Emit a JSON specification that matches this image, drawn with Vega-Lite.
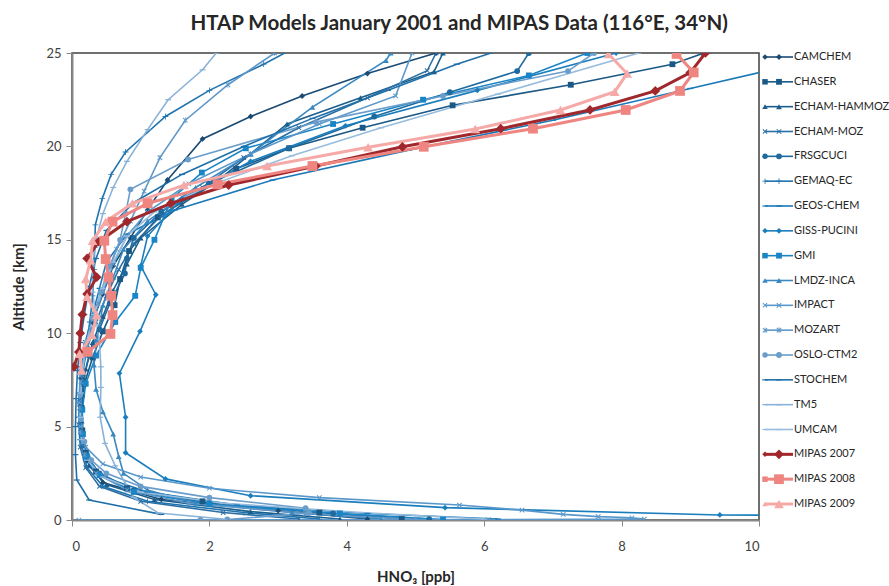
{
  "$schema": "https://vega.github.io/schema/vega-lite/v6.json",
  "title": {"text": "HTAP Models January 2001 and MIPAS Data (116°E, 34°N)", "font": "Lato", "fontSize": 20.5, "fontWeight": "bold", "color": "#262626", "anchor": "middle", "offset": 12, "dx": 9},
  "padding": {"left": 11, "top": 13, "right": 0, "bottom": 0},
  "spacing": 0,
  "resolve": {"scale": {"x": "independent", "y": "independent", "color": "independent", "shape": "independent"}},
  "datasets": {
    "keys": [
      {"s": "CAMCHEM"}, {"s": "CHASER"}, {"s": "ECHAM-HAMMOZ"}, {"s": "ECHAM-MOZ"}, {"s": "FRSGCUCI"}, {"s": "GEMAQ-EC"}, {"s": "GEOS-CHEM"}, {"s": "GISS-PUCINI"}, {"s": "GMI"}, {"s": "LMDZ-INCA"}, {"s": "IMPACT"}, {"s": "MOZART"}, {"s": "OSLO-CTM2"}, {"s": "STOCHEM"}, {"s": "TM5"}, {"s": "UMCAM"}, {"s": "MIPAS 2007"}, {"s": "MIPAS 2008"}, {"s": "MIPAS 2009"}
    ],
    "prof": [
      {"s":"CAMCHEM","x":4.3,"z":0.05},{"s":"CAMCHEM","x":3.0,"z":0.5},{"s":"CAMCHEM","x":1.3,"z":1.1},{"s":"CAMCHEM","x":0.45,"z":2.0},{"s":"CAMCHEM","x":0.22,"z":3.2},{"s":"CAMCHEM","x":0.15,"z":4.6},{"s":"CAMCHEM","x":0.12,"z":6.1},{"s":"CAMCHEM","x":0.13,"z":7.6},{"s":"CAMCHEM","x":0.18,"z":9.1},{"s":"CAMCHEM","x":0.3,"z":10.6},{"s":"CAMCHEM","x":0.45,"z":12.1},{"s":"CAMCHEM","x":0.6,"z":13.6},{"s":"CAMCHEM","x":0.85,"z":15.1},{"s":"CAMCHEM","x":1.1,"z":16.6},{"s":"CAMCHEM","x":1.39,"z":18.2},{"s":"CAMCHEM","x":1.9,"z":20.4},{"s":"CAMCHEM","x":2.6,"z":21.6},{"s":"CAMCHEM","x":3.35,"z":22.7},{"s":"CAMCHEM","x":4.3,"z":23.9},{"s":"CAMCHEM","x":5.3,"z":25.0},
      {"s":"CHASER","x":4.8,"z":0.05},{"s":"CHASER","x":3.6,"z":0.4},{"s":"CHASER","x":1.9,"z":1.0},{"s":"CHASER","x":0.8,"z":1.7},{"s":"CHASER","x":0.35,"z":2.6},{"s":"CHASER","x":0.2,"z":3.6},{"s":"CHASER","x":0.15,"z":4.8},{"s":"CHASER","x":0.14,"z":6.0},{"s":"CHASER","x":0.18,"z":7.3},{"s":"CHASER","x":0.3,"z":8.7},{"s":"CHASER","x":0.45,"z":10.1},{"s":"CHASER","x":0.62,"z":11.5},{"s":"CHASER","x":0.7,"z":12.9},{"s":"CHASER","x":0.83,"z":14.4},{"s":"CHASER","x":1.25,"z":16.2},{"s":"CHASER","x":2.39,"z":18.8},{"s":"CHASER","x":3.16,"z":19.9},{"s":"CHASER","x":4.23,"z":21.0},{"s":"CHASER","x":5.54,"z":22.2},{"s":"CHASER","x":7.26,"z":23.3},{"s":"CHASER","x":8.74,"z":24.4},{"s":"CHASER","x":9.2,"z":25.0},
      {"s":"ECHAM-HAMMOZ","x":3.9,"z":0.05},{"s":"ECHAM-HAMMOZ","x":2.6,"z":0.45},{"s":"ECHAM-HAMMOZ","x":1.2,"z":1.1},{"s":"ECHAM-HAMMOZ","x":0.5,"z":1.9},{"s":"ECHAM-HAMMOZ","x":0.25,"z":2.9},{"s":"ECHAM-HAMMOZ","x":0.17,"z":4.0},{"s":"ECHAM-HAMMOZ","x":0.14,"z":5.3},{"s":"ECHAM-HAMMOZ","x":0.15,"z":6.7},{"s":"ECHAM-HAMMOZ","x":0.2,"z":8.1},{"s":"ECHAM-HAMMOZ","x":0.3,"z":9.5},{"s":"ECHAM-HAMMOZ","x":0.45,"z":10.9},{"s":"ECHAM-HAMMOZ","x":0.6,"z":12.3},{"s":"ECHAM-HAMMOZ","x":0.8,"z":13.7},{"s":"ECHAM-HAMMOZ","x":1.0,"z":15.1},{"s":"ECHAM-HAMMOZ","x":1.6,"z":16.9},{"s":"ECHAM-HAMMOZ","x":2.1,"z":18.1},{"s":"ECHAM-HAMMOZ","x":2.6,"z":19.6},{"s":"ECHAM-HAMMOZ","x":3.13,"z":21.2},{"s":"ECHAM-HAMMOZ","x":4.2,"z":22.6},{"s":"ECHAM-HAMMOZ","x":5.27,"z":24.0},{"s":"ECHAM-HAMMOZ","x":5.4,"z":25.0},
      {"s":"ECHAM-MOZ","x":3.3,"z":0.05},{"s":"ECHAM-MOZ","x":2.2,"z":0.4},{"s":"ECHAM-MOZ","x":1.0,"z":1.0},{"s":"ECHAM-MOZ","x":0.4,"z":1.8},{"s":"ECHAM-MOZ","x":0.2,"z":2.8},{"s":"ECHAM-MOZ","x":0.12,"z":3.9},{"s":"ECHAM-MOZ","x":0.1,"z":5.1},{"s":"ECHAM-MOZ","x":0.11,"z":6.4},{"s":"ECHAM-MOZ","x":0.15,"z":7.8},{"s":"ECHAM-MOZ","x":0.22,"z":9.2},{"s":"ECHAM-MOZ","x":0.35,"z":10.6},{"s":"ECHAM-MOZ","x":0.5,"z":12.0},{"s":"ECHAM-MOZ","x":0.68,"z":13.4},{"s":"ECHAM-MOZ","x":0.9,"z":14.8},{"s":"ECHAM-MOZ","x":1.3,"z":16.3},{"s":"ECHAM-MOZ","x":1.9,"z":17.8},{"s":"ECHAM-MOZ","x":2.5,"z":19.4},{"s":"ECHAM-MOZ","x":3.3,"z":21.0},{"s":"ECHAM-MOZ","x":4.3,"z":22.6},{"s":"ECHAM-MOZ","x":5.17,"z":24.05},{"s":"ECHAM-MOZ","x":5.3,"z":25.0},
      {"s":"FRSGCUCI","x":5.2,"z":0.05},{"s":"FRSGCUCI","x":3.8,"z":0.35},{"s":"FRSGCUCI","x":2.0,"z":0.9},{"s":"FRSGCUCI","x":0.9,"z":1.6},{"s":"FRSGCUCI","x":0.4,"z":2.5},{"s":"FRSGCUCI","x":0.2,"z":3.5},{"s":"FRSGCUCI","x":0.14,"z":4.7},{"s":"FRSGCUCI","x":0.13,"z":6.0},{"s":"FRSGCUCI","x":0.16,"z":7.4},{"s":"FRSGCUCI","x":0.25,"z":8.8},{"s":"FRSGCUCI","x":0.4,"z":10.2},{"s":"FRSGCUCI","x":0.55,"z":11.6},{"s":"FRSGCUCI","x":0.77,"z":13.2},{"s":"FRSGCUCI","x":0.8,"z":14.0},{"s":"FRSGCUCI","x":0.9,"z":15.1},{"s":"FRSGCUCI","x":1.3,"z":16.5},{"s":"FRSGCUCI","x":1.99,"z":18.0},{"s":"FRSGCUCI","x":3.16,"z":19.9},{"s":"FRSGCUCI","x":4.4,"z":21.6},{"s":"FRSGCUCI","x":5.5,"z":22.9},{"s":"FRSGCUCI","x":6.48,"z":24.03},{"s":"FRSGCUCI","x":6.65,"z":25.0},
      {"s":"GEMAQ-EC","x":3.6,"z":0.05},{"s":"GEMAQ-EC","x":2.5,"z":0.4},{"s":"GEMAQ-EC","x":1.1,"z":1.0},{"s":"GEMAQ-EC","x":0.45,"z":1.8},{"s":"GEMAQ-EC","x":0.22,"z":2.8},{"s":"GEMAQ-EC","x":0.15,"z":3.9},{"s":"GEMAQ-EC","x":0.12,"z":5.1},{"s":"GEMAQ-EC","x":0.12,"z":6.4},{"s":"GEMAQ-EC","x":0.15,"z":7.8},{"s":"GEMAQ-EC","x":0.2,"z":9.2},{"s":"GEMAQ-EC","x":0.26,"z":10.6},{"s":"GEMAQ-EC","x":0.3,"z":12.0},{"s":"GEMAQ-EC","x":0.32,"z":13.4},{"s":"GEMAQ-EC","x":0.33,"z":14.6},{"s":"GEMAQ-EC","x":0.34,"z":15.8},{"s":"GEMAQ-EC","x":0.44,"z":17.2},{"s":"GEMAQ-EC","x":0.57,"z":18.5},{"s":"GEMAQ-EC","x":0.78,"z":19.7},{"s":"GEMAQ-EC","x":1.36,"z":21.6},{"s":"GEMAQ-EC","x":2.0,"z":23.0},{"s":"GEMAQ-EC","x":2.79,"z":24.4},{"s":"GEMAQ-EC","x":3.2,"z":25.2},
      {"s":"GEOS-CHEM","x":6.2,"z":0.05},{"s":"GEOS-CHEM","x":4.3,"z":0.35},{"s":"GEOS-CHEM","x":2.4,"z":0.8},{"s":"GEOS-CHEM","x":1.1,"z":1.5},{"s":"GEOS-CHEM","x":0.45,"z":2.3},{"s":"GEOS-CHEM","x":0.2,"z":3.2},{"s":"GEOS-CHEM","x":0.12,"z":4.3},{"s":"GEOS-CHEM","x":0.1,"z":5.5},{"s":"GEOS-CHEM","x":0.11,"z":6.8},{"s":"GEOS-CHEM","x":0.14,"z":8.2},{"s":"GEOS-CHEM","x":0.2,"z":9.6},{"s":"GEOS-CHEM","x":0.3,"z":11.0},{"s":"GEOS-CHEM","x":0.4,"z":12.4},{"s":"GEOS-CHEM","x":0.5,"z":13.8},{"s":"GEOS-CHEM","x":0.8,"z":15.3},{"s":"GEOS-CHEM","x":1.5,"z":16.6},{"s":"GEOS-CHEM","x":2.92,"z":18.2},{"s":"GEOS-CHEM","x":4.9,"z":19.8},{"s":"GEOS-CHEM","x":7.0,"z":21.4},{"s":"GEOS-CHEM","x":9.0,"z":23.1},{"s":"GEOS-CHEM","x":11.0,"z":24.8},
      {"s":"GISS-PUCINI","x":13.0,"z":0.2},{"s":"GISS-PUCINI","x":9.43,"z":0.27},{"s":"GISS-PUCINI","x":5.43,"z":0.66},{"s":"GISS-PUCINI","x":2.6,"z":1.3},{"s":"GISS-PUCINI","x":1.36,"z":2.2},{"s":"GISS-PUCINI","x":0.78,"z":3.6},{"s":"GISS-PUCINI","x":0.78,"z":5.5},{"s":"GISS-PUCINI","x":0.69,"z":7.85},{"s":"GISS-PUCINI","x":0.99,"z":10.1},{"s":"GISS-PUCINI","x":1.22,"z":12.06},{"s":"GISS-PUCINI","x":1.0,"z":13.6},{"s":"GISS-PUCINI","x":1.1,"z":15.2},{"s":"GISS-PUCINI","x":1.6,"z":17.2},{"s":"GISS-PUCINI","x":2.6,"z":19.2},{"s":"GISS-PUCINI","x":3.98,"z":21.1},{"s":"GISS-PUCINI","x":5.9,"z":23.0},{"s":"GISS-PUCINI","x":7.92,"z":25.0},
      {"s":"GMI","x":5.4,"z":0.03},{"s":"GMI","x":3.9,"z":0.35},{"s":"GMI","x":2.0,"z":0.85},{"s":"GMI","x":0.9,"z":1.5},{"s":"GMI","x":0.4,"z":2.4},{"s":"GMI","x":0.22,"z":3.4},{"s":"GMI","x":0.16,"z":4.6},{"s":"GMI","x":0.15,"z":5.9},{"s":"GMI","x":0.2,"z":7.3},{"s":"GMI","x":0.35,"z":8.8},{"s":"GMI","x":0.63,"z":10.6},{"s":"GMI","x":0.92,"z":12.0},{"s":"GMI","x":1.0,"z":13.5},{"s":"GMI","x":1.2,"z":15.0},{"s":"GMI","x":1.45,"z":17.2},{"s":"GMI","x":1.89,"z":18.6},{"s":"GMI","x":2.53,"z":19.9},{"s":"GMI","x":3.8,"z":21.2},{"s":"GMI","x":5.11,"z":22.5},{"s":"GMI","x":6.65,"z":23.8},{"s":"GMI","x":7.5,"z":25.0},
      {"s":"LMDZ-INCA","x":4.5,"z":0.05},{"s":"LMDZ-INCA","x":3.2,"z":0.4},{"s":"LMDZ-INCA","x":1.8,"z":0.9},{"s":"LMDZ-INCA","x":1.1,"z":1.6},{"s":"LMDZ-INCA","x":0.75,"z":2.5},{"s":"LMDZ-INCA","x":0.68,"z":3.4},{"s":"LMDZ-INCA","x":0.6,"z":4.6},{"s":"LMDZ-INCA","x":0.45,"z":5.8},{"s":"LMDZ-INCA","x":0.35,"z":7.0},{"s":"LMDZ-INCA","x":0.32,"z":8.3},{"s":"LMDZ-INCA","x":0.36,"z":9.6},{"s":"LMDZ-INCA","x":0.45,"z":11.5},{"s":"LMDZ-INCA","x":0.6,"z":13.0},{"s":"LMDZ-INCA","x":0.75,"z":14.5},{"s":"LMDZ-INCA","x":1.1,"z":16.0},{"s":"LMDZ-INCA","x":1.8,"z":17.8},{"s":"LMDZ-INCA","x":2.6,"z":19.6},{"s":"LMDZ-INCA","x":3.5,"z":22.1},{"s":"LMDZ-INCA","x":4.57,"z":24.6},{"s":"LMDZ-INCA","x":4.64,"z":25.0},
      {"s":"IMPACT","x":0.1,"z":0.0},{"s":"IMPACT","x":6.06,"z":0.02},{"s":"IMPACT","x":8.33,"z":0.05},{"s":"IMPACT","x":8.15,"z":0.12},{"s":"IMPACT","x":7.66,"z":0.18},{"s":"IMPACT","x":7.15,"z":0.3},{"s":"IMPACT","x":6.55,"z":0.53},{"s":"IMPACT","x":5.64,"z":0.8},{"s":"IMPACT","x":3.6,"z":1.2},{"s":"IMPACT","x":2.0,"z":1.7},{"s":"IMPACT","x":1.0,"z":2.3},{"s":"IMPACT","x":0.45,"z":3.0},{"s":"IMPACT","x":0.2,"z":3.9},{"s":"IMPACT","x":0.12,"z":5.0},{"s":"IMPACT","x":0.1,"z":6.3},{"s":"IMPACT","x":0.12,"z":7.7},{"s":"IMPACT","x":0.2,"z":9.2},{"s":"IMPACT","x":0.3,"z":10.7},{"s":"IMPACT","x":0.45,"z":12.2},{"s":"IMPACT","x":0.6,"z":13.7},{"s":"IMPACT","x":0.8,"z":15.2},{"s":"IMPACT","x":1.1,"z":16.5},{"s":"IMPACT","x":1.7,"z":18.0},{"s":"IMPACT","x":2.6,"z":19.6},{"s":"IMPACT","x":3.6,"z":21.2},{"s":"IMPACT","x":4.71,"z":22.7},{"s":"IMPACT","x":4.95,"z":25.0},
      {"s":"MOZART","x":5.0,"z":0.03},{"s":"MOZART","x":3.4,"z":0.35},{"s":"MOZART","x":1.7,"z":0.9},{"s":"MOZART","x":0.8,"z":1.6},{"s":"MOZART","x":0.35,"z":2.5},{"s":"MOZART","x":0.18,"z":3.5},{"s":"MOZART","x":0.12,"z":4.7},{"s":"MOZART","x":0.11,"z":6.0},{"s":"MOZART","x":0.13,"z":7.4},{"s":"MOZART","x":0.18,"z":8.8},{"s":"MOZART","x":0.27,"z":10.2},{"s":"MOZART","x":0.38,"z":11.6},{"s":"MOZART","x":0.5,"z":13.0},{"s":"MOZART","x":0.65,"z":14.5},{"s":"MOZART","x":0.85,"z":16.0},{"s":"MOZART","x":1.05,"z":17.6},{"s":"MOZART","x":1.28,"z":19.4},{"s":"MOZART","x":1.65,"z":21.4},{"s":"MOZART","x":2.27,"z":23.3},{"s":"MOZART","x":2.95,"z":25.0},
      {"s":"OSLO-CTM2","x":1.87,"z":0.0},{"s":"OSLO-CTM2","x":2.26,"z":0.03},{"s":"OSLO-CTM2","x":3.45,"z":0.37},{"s":"OSLO-CTM2","x":3.4,"z":0.63},{"s":"OSLO-CTM2","x":2.0,"z":1.2},{"s":"OSLO-CTM2","x":1.0,"z":1.8},{"s":"OSLO-CTM2","x":0.5,"z":2.5},{"s":"OSLO-CTM2","x":0.28,"z":3.2},{"s":"OSLO-CTM2","x":0.18,"z":4.2},{"s":"OSLO-CTM2","x":0.13,"z":5.4},{"s":"OSLO-CTM2","x":0.12,"z":6.7},{"s":"OSLO-CTM2","x":0.14,"z":8.0},{"s":"OSLO-CTM2","x":0.2,"z":9.4},{"s":"OSLO-CTM2","x":0.3,"z":10.8},{"s":"OSLO-CTM2","x":0.42,"z":12.2},{"s":"OSLO-CTM2","x":0.55,"z":13.6},{"s":"OSLO-CTM2","x":0.7,"z":15.0},{"s":"OSLO-CTM2","x":0.78,"z":16.4},{"s":"OSLO-CTM2","x":0.85,"z":17.7},{"s":"OSLO-CTM2","x":1.69,"z":19.3},{"s":"OSLO-CTM2","x":3.55,"z":21.3},{"s":"OSLO-CTM2","x":5.4,"z":22.7},{"s":"OSLO-CTM2","x":7.22,"z":24.03},{"s":"OSLO-CTM2","x":7.6,"z":25.0},
      {"s":"STOCHEM","x":1.3,"z":0.3},{"s":"STOCHEM","x":0.25,"z":1.07},{"s":"STOCHEM","x":0.07,"z":2.14},{"s":"STOCHEM","x":0.05,"z":3.5},{"s":"STOCHEM","x":0.05,"z":5.0},{"s":"STOCHEM","x":0.06,"z":6.5},{"s":"STOCHEM","x":0.08,"z":8.0},{"s":"STOCHEM","x":0.12,"z":9.5},{"s":"STOCHEM","x":0.18,"z":11.0},{"s":"STOCHEM","x":0.25,"z":12.5},{"s":"STOCHEM","x":0.35,"z":14.0},{"s":"STOCHEM","x":0.5,"z":15.5},{"s":"STOCHEM","x":0.9,"z":17.0},{"s":"STOCHEM","x":1.6,"z":18.5},{"s":"STOCHEM","x":2.5,"z":20.0},{"s":"STOCHEM","x":3.5,"z":21.5},{"s":"STOCHEM","x":4.6,"z":23.0},{"s":"STOCHEM","x":5.6,"z":24.4},{"s":"STOCHEM","x":6.1,"z":25.0},
      {"s":"TM5","x":2.2,"z":0.05},{"s":"TM5","x":1.26,"z":0.37},{"s":"TM5","x":0.9,"z":1.2},{"s":"TM5","x":0.63,"z":2.9},{"s":"TM5","x":0.48,"z":4.1},{"s":"TM5","x":0.41,"z":5.5},{"s":"TM5","x":0.42,"z":7.1},{"s":"TM5","x":0.42,"z":8.2},{"s":"TM5","x":0.4,"z":9.5},{"s":"TM5","x":0.35,"z":10.8},{"s":"TM5","x":0.3,"z":12.2},{"s":"TM5","x":0.3,"z":13.6},{"s":"TM5","x":0.35,"z":15.0},{"s":"TM5","x":0.45,"z":16.4},{"s":"TM5","x":0.6,"z":17.8},{"s":"TM5","x":0.8,"z":19.2},{"s":"TM5","x":1.1,"z":20.9},{"s":"TM5","x":1.4,"z":22.5},{"s":"TM5","x":1.9,"z":24.1},{"s":"TM5","x":2.1,"z":25.0},
      {"s":"UMCAM","x":6.0,"z":0.05},{"s":"UMCAM","x":4.2,"z":0.4},{"s":"UMCAM","x":2.2,"z":0.9},{"s":"UMCAM","x":1.0,"z":1.5},{"s":"UMCAM","x":0.45,"z":2.3},{"s":"UMCAM","x":0.22,"z":3.2},{"s":"UMCAM","x":0.14,"z":4.3},{"s":"UMCAM","x":0.12,"z":5.5},{"s":"UMCAM","x":0.13,"z":6.8},{"s":"UMCAM","x":0.16,"z":8.2},{"s":"UMCAM","x":0.22,"z":9.6},{"s":"UMCAM","x":0.32,"z":11.0},{"s":"UMCAM","x":0.45,"z":12.4},{"s":"UMCAM","x":0.6,"z":13.8},{"s":"UMCAM","x":0.8,"z":15.2},{"s":"UMCAM","x":1.2,"z":16.5},{"s":"UMCAM","x":2.0,"z":17.9},{"s":"UMCAM","x":3.2,"z":19.5},{"s":"UMCAM","x":4.5,"z":21.0},{"s":"UMCAM","x":6.2,"z":22.8},{"s":"UMCAM","x":8.25,"z":25.0},
      {"s":"MIPAS 2007","x":0.03,"z":8.2},{"s":"MIPAS 2007","x":0.1,"z":9.0},{"s":"MIPAS 2007","x":0.12,"z":10.0},{"s":"MIPAS 2007","x":0.15,"z":11.0},{"s":"MIPAS 2007","x":0.22,"z":12.1},{"s":"MIPAS 2007","x":0.36,"z":13.0},{"s":"MIPAS 2007","x":0.22,"z":14.0},{"s":"MIPAS 2007","x":0.39,"z":14.9},{"s":"MIPAS 2007","x":0.8,"z":15.97},{"s":"MIPAS 2007","x":1.44,"z":16.95},{"s":"MIPAS 2007","x":2.28,"z":17.93},{"s":"MIPAS 2007","x":3.55,"z":18.95},{"s":"MIPAS 2007","x":4.81,"z":19.98},{"s":"MIPAS 2007","x":6.24,"z":20.95},{"s":"MIPAS 2007","x":7.54,"z":21.95},{"s":"MIPAS 2007","x":8.49,"z":22.97},{"s":"MIPAS 2007","x":9.0,"z":23.95},{"s":"MIPAS 2007","x":9.22,"z":25.0},
      {"s":"MIPAS 2008","x":0.23,"z":9.0},{"s":"MIPAS 2008","x":0.56,"z":9.96},{"s":"MIPAS 2008","x":0.59,"z":10.97},{"s":"MIPAS 2008","x":0.57,"z":12.0},{"s":"MIPAS 2008","x":0.53,"z":12.99},{"s":"MIPAS 2008","x":0.49,"z":13.97},{"s":"MIPAS 2008","x":0.47,"z":14.95},{"s":"MIPAS 2008","x":0.59,"z":15.97},{"s":"MIPAS 2008","x":1.1,"z":16.95},{"s":"MIPAS 2008","x":2.12,"z":17.97},{"s":"MIPAS 2008","x":3.5,"z":18.95},{"s":"MIPAS 2008","x":5.12,"z":19.98},{"s":"MIPAS 2008","x":6.71,"z":20.95},{"s":"MIPAS 2008","x":8.06,"z":21.95},{"s":"MIPAS 2008","x":8.85,"z":22.97},{"s":"MIPAS 2008","x":9.05,"z":23.96},{"s":"MIPAS 2008","x":8.8,"z":24.95},
      {"s":"MIPAS 2009","x":0.14,"z":8.0},{"s":"MIPAS 2009","x":0.11,"z":8.9},{"s":"MIPAS 2009","x":0.29,"z":9.9},{"s":"MIPAS 2009","x":0.36,"z":10.97},{"s":"MIPAS 2009","x":0.22,"z":11.95},{"s":"MIPAS 2009","x":0.2,"z":12.9},{"s":"MIPAS 2009","x":0.27,"z":13.9},{"s":"MIPAS 2009","x":0.3,"z":14.95},{"s":"MIPAS 2009","x":0.49,"z":15.97},{"s":"MIPAS 2009","x":0.88,"z":16.95},{"s":"MIPAS 2009","x":1.63,"z":17.93},{"s":"MIPAS 2009","x":2.84,"z":18.95},{"s":"MIPAS 2009","x":4.31,"z":19.95},{"s":"MIPAS 2009","x":5.87,"z":20.93},{"s":"MIPAS 2009","x":7.11,"z":21.95},{"s":"MIPAS 2009","x":7.9,"z":22.93},{"s":"MIPAS 2009","x":8.08,"z":23.9},{"s":"MIPAS 2009","x":7.81,"z":24.95}
    ]
  },
  "hconcat": [
    {
      "width": 687,
      "height": 467,
      "view": {"stroke": "#404040", "strokeWidth": 1.5},
      "data": {"name": "prof"},
      "encoding": {
        "x": {"field": "x", "type": "quantitative", "scale": {"domain": [0, 10], "nice": false, "zero": false},
              "axis": {"title": "HNO₃ [ppb]", "values": [0, 2, 4, 6, 8, 10], "labelPadding": 14, "titlePadding": 16}},
        "y": {"field": "z", "type": "quantitative", "scale": {"domain": [0, 25], "nice": false, "zero": false},
              "axis": {"title": "Altitude [km]", "values": [0, 5, 10, 15, 20, 25], "labelPadding": 5, "titlePadding": 19}},
        "color": {"field": "s", "type": "nominal", "legend": null,
                  "scale": {"domain": ["CAMCHEM", "CHASER", "ECHAM-HAMMOZ", "ECHAM-MOZ", "FRSGCUCI", "GEMAQ-EC", "GEOS-CHEM", "GISS-PUCINI", "GMI", "LMDZ-INCA", "IMPACT", "MOZART", "OSLO-CTM2", "STOCHEM", "TM5", "UMCAM", "MIPAS 2007", "MIPAS 2008", "MIPAS 2009"],
                            "range": ["#1b4a72", "#1a5885", "#1b5e8c", "#2a6fa4", "#1e6a9e", "#1f73ae", "#1a79b8", "#1b7ebc", "#1a85c6", "#3a88c0", "#5a98cc", "#5f97c8", "#6b9dcb", "#1f6fa8", "#8ab2d7", "#98bcdd", "#a0282c", "#ee8580", "#f5aaa8"]}}
      },
      "layer": [
        {
          "transform": [{"filter": "indexof(datum.s, 'MIPAS') < 0"}],
          "mark": {"type": "line", "strokeWidth": 1.6, "clip": true},
          "encoding": {"order": {"field": "z", "type": "quantitative"}}
        },
        {
          "transform": [{"filter": "indexof(datum.s, 'MIPAS') < 0"}],
          "mark": {"type": "point", "filled": true, "opacity": 1, "size": 34, "clip": true},
          "encoding": {
            "shape": {"field": "s", "type": "nominal", "legend": null,
                      "scale": {"domain": ["CAMCHEM", "CHASER", "ECHAM-HAMMOZ", "ECHAM-MOZ", "FRSGCUCI", "GEMAQ-EC", "GEOS-CHEM", "GISS-PUCINI", "GMI", "LMDZ-INCA", "IMPACT", "MOZART", "OSLO-CTM2", "STOCHEM", "TM5", "UMCAM", "MIPAS 2007", "MIPAS 2008", "MIPAS 2009"],
                                "range": ["diamond", "square", "triangle-up", "M-0.9,-0.65L0.65,0.9L0.9,0.65L-0.65,-0.9Z M-0.65,0.9L0.9,-0.65L0.65,-0.9L-0.9,0.65Z", "circle", "M-1,-0.14H-0.14V-1H0.14V-0.14H1V0.14H0.14V1H-0.14V0.14H-1Z", "M-1,-0.22H1V0.22H-1Z", "diamond", "square", "triangle-up", "M-0.9,-0.65L0.65,0.9L0.9,0.65L-0.65,-0.9Z M-0.65,0.9L0.9,-0.65L0.65,-0.9L-0.9,0.65Z", "M-0.9,-0.65L0.65,0.9L0.9,0.65L-0.65,-0.9Z M-0.65,0.9L0.9,-0.65L0.65,-0.9L-0.9,0.65Z M-0.12,-1V1H0.12V-1Z", "circle", "M-1,-0.22H1V0.22H-1Z", "M-1,-0.22H1V0.22H-1Z", "M-1,-0.22H1V0.22H-1Z", "diamond", "square", "triangle-up"]}}
          }
        },
        {
          "transform": [{"filter": "indexof(datum.s, 'MIPAS') >= 0"}],
          "mark": {"type": "line", "strokeWidth": 3, "clip": true},
          "encoding": {"order": {"field": "z", "type": "quantitative"}}
        },
        {
          "transform": [{"filter": "indexof(datum.s, 'MIPAS') >= 0"}],
          "mark": {"type": "point", "filled": true, "opacity": 1, "size": 95, "clip": true},
          "encoding": {
            "shape": {"field": "s", "type": "nominal", "legend": null,
                      "scale": {"domain": ["MIPAS 2007", "MIPAS 2008", "MIPAS 2009"], "range": ["diamond", "square", "triangle-up"]}}
          }
        }
      ]
    },
    {
      "width": 125,
      "height": 467,
      "data": {"name": "keys"},
      "encoding": {
        "y": {"field": "s", "type": "nominal", "axis": null, "sort": null,
              "scale": {"type": "point", "padding": 0, "range": [4, 451],
                        "domain": ["CAMCHEM", "CHASER", "ECHAM-HAMMOZ", "ECHAM-MOZ", "FRSGCUCI", "GEMAQ-EC", "GEOS-CHEM", "GISS-PUCINI", "GMI", "LMDZ-INCA", "IMPACT", "MOZART", "OSLO-CTM2", "STOCHEM", "TM5", "UMCAM", "MIPAS 2007", "MIPAS 2008", "MIPAS 2009"]}},
        "color": {"field": "s", "type": "nominal", "legend": null,
                  "scale": {"domain": ["CAMCHEM", "CHASER", "ECHAM-HAMMOZ", "ECHAM-MOZ", "FRSGCUCI", "GEMAQ-EC", "GEOS-CHEM", "GISS-PUCINI", "GMI", "LMDZ-INCA", "IMPACT", "MOZART", "OSLO-CTM2", "STOCHEM", "TM5", "UMCAM", "MIPAS 2007", "MIPAS 2008", "MIPAS 2009"],
                            "range": ["#1b4a72", "#1a5885", "#1b5e8c", "#2a6fa4", "#1e6a9e", "#1f73ae", "#1a79b8", "#1b7ebc", "#1a85c6", "#3a88c0", "#5a98cc", "#5f97c8", "#6b9dcb", "#1f6fa8", "#8ab2d7", "#98bcdd", "#a0282c", "#ee8580", "#f5aaa8"]}},
        "shape": {"field": "s", "type": "nominal", "legend": null,
                  "scale": {"domain": ["CAMCHEM", "CHASER", "ECHAM-HAMMOZ", "ECHAM-MOZ", "FRSGCUCI", "GEMAQ-EC", "GEOS-CHEM", "GISS-PUCINI", "GMI", "LMDZ-INCA", "IMPACT", "MOZART", "OSLO-CTM2", "STOCHEM", "TM5", "UMCAM", "MIPAS 2007", "MIPAS 2008", "MIPAS 2009"],
                            "range": ["diamond", "square", "triangle-up", "M-0.9,-0.65L0.65,0.9L0.9,0.65L-0.65,-0.9Z M-0.65,0.9L0.9,-0.65L0.65,-0.9L-0.9,0.65Z", "circle", "M-1,-0.14H-0.14V-1H0.14V-0.14H1V0.14H0.14V1H-0.14V0.14H-1Z", "M-1,-0.22H1V0.22H-1Z", "diamond", "square", "triangle-up", "M-0.9,-0.65L0.65,0.9L0.9,0.65L-0.65,-0.9Z M-0.65,0.9L0.9,-0.65L0.65,-0.9L-0.9,0.65Z", "M-0.9,-0.65L0.65,0.9L0.9,0.65L-0.65,-0.9Z M-0.65,0.9L0.9,-0.65L0.65,-0.9L-0.9,0.65Z M-0.12,-1V1H0.12V-1Z", "circle", "M-1,-0.22H1V0.22H-1Z", "M-1,-0.22H1V0.22H-1Z", "M-1,-0.22H1V0.22H-1Z", "diamond", "square", "triangle-up"]}}
      },
      "layer": [
        {
          "transform": [{"filter": "indexof(datum.s, 'MIPAS') < 0"}],
          "mark": {"type": "rule", "strokeWidth": 1.6},
          "encoding": {
            "x": {"datum": 4, "type": "quantitative", "scale": {"domain": [0, 125], "nice": false, "zero": false}, "axis": null},
            "x2": {"datum": 32}
          }
        },
        {
          "transform": [{"filter": "indexof(datum.s, 'MIPAS') >= 0"}],
          "mark": {"type": "rule", "strokeWidth": 3},
          "encoding": {"x": {"datum": 4, "type": "quantitative"}, "x2": {"datum": 32}}
        },
        {
          "transform": [{"filter": "indexof(datum.s, 'MIPAS') < 0"}],
          "mark": {"type": "point", "filled": true, "opacity": 1, "size": 34},
          "encoding": {"x": {"datum": 18, "type": "quantitative"}}
        },
        {
          "transform": [{"filter": "indexof(datum.s, 'MIPAS') >= 0"}],
          "mark": {"type": "point", "filled": true, "opacity": 1, "size": 95},
          "encoding": {"x": {"datum": 18, "type": "quantitative"}}
        },
        {
          "mark": {"type": "text", "align": "left", "baseline": "middle", "fontSize": 11, "font": "Lato", "color": "#262626"},
          "encoding": {"x": {"datum": 33, "type": "quantitative"}, "text": {"field": "s"}, "color": {"value": "#262626"}}
        }
      ]
    }
  ],
  "config": {
    "font": "Lato",
    "view": {"stroke": null},
    "axis": {
      "labelFont": "Lato", "labelFontSize": 13, "labelColor": "#404040",
      "titleFont": "Lato", "titleFontSize": 15, "titleFontWeight": "bold", "titleColor": "#262626",
      "tickColor": "#888888", "tickSize": 6, "domainColor": "#888888", "domainWidth": 2, "grid": false
    }
  }
}
